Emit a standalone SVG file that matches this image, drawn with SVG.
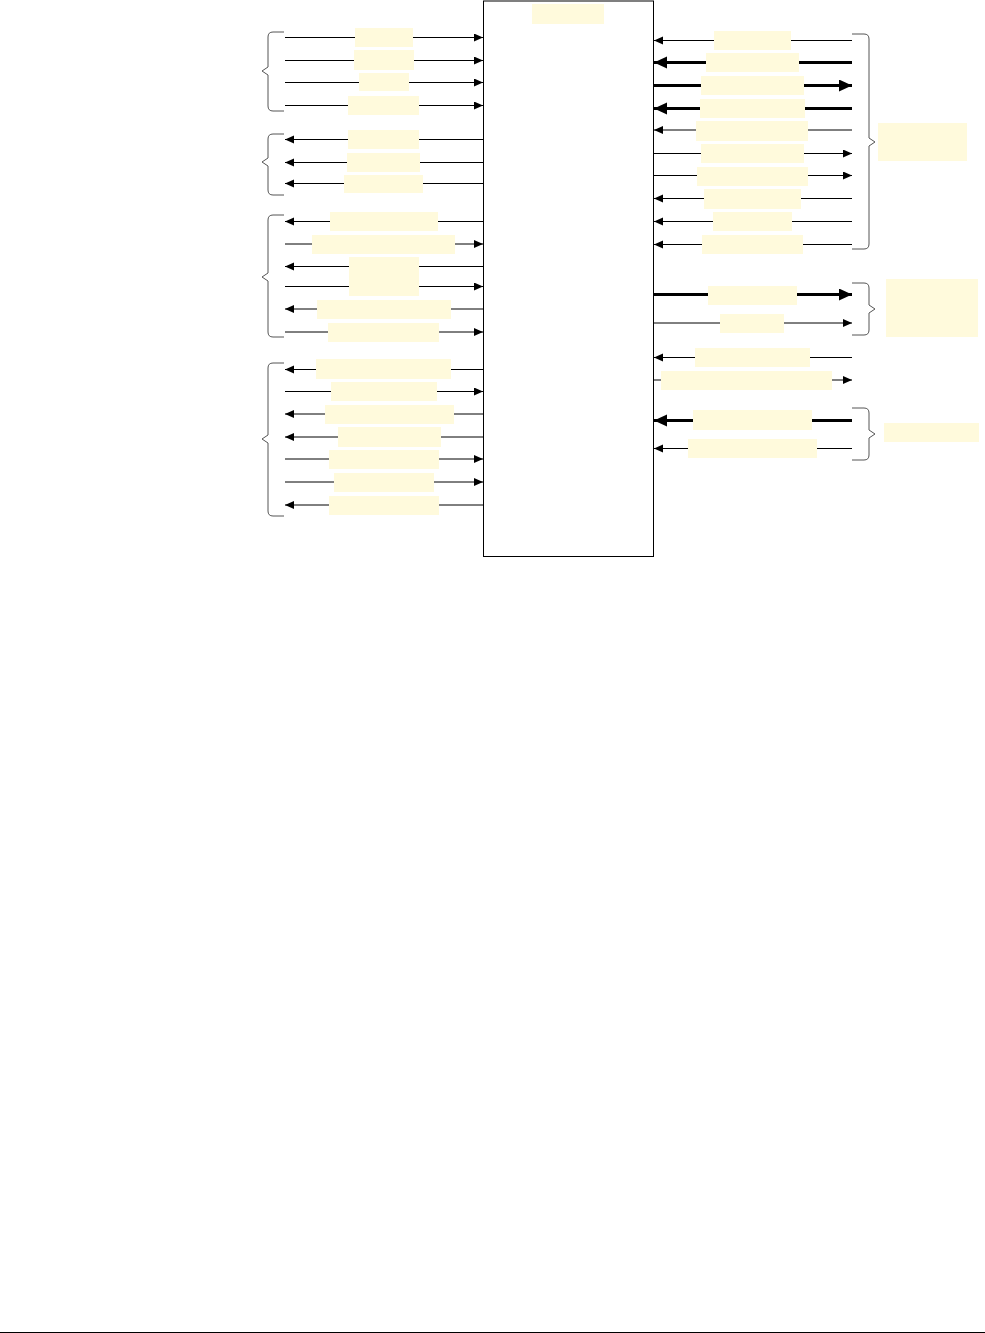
<svg xmlns="http://www.w3.org/2000/svg" width="985" height="1333" viewBox="0 0 985 1333">
<style>
.lbl{fill:#fffadc;stroke:none}
.ln{stroke:#000;stroke-width:1;fill:none}
.tk{stroke:#000;stroke-width:3;fill:none}
.br{stroke:#555;stroke-width:1;fill:none}
</style>
<defs>
<marker id="a" markerUnits="userSpaceOnUse" markerWidth="10" markerHeight="9" refX="9" refY="4" orient="auto"><path d="M0,0 L9,4 L0,8 z" fill="#000"/></marker>
<marker id="b" markerUnits="userSpaceOnUse" markerWidth="14" markerHeight="13" refX="13" refY="6" orient="auto"><path d="M0,0 L13,6 L0,12 z" fill="#000"/></marker>
</defs>
<rect width="985" height="1333" fill="#fff"/>
<g id="connectors">
<!-- left group 1 -->
<line class="ln" x1="285" y1="37.5" x2="483" y2="37.5" marker-end="url(#a)"/>
<line class="ln" x1="285" y1="60.5" x2="483" y2="60.5" marker-end="url(#a)"/>
<line class="ln" x1="285" y1="82.5" x2="483" y2="82.5" marker-end="url(#a)"/>
<line class="ln" x1="285" y1="105.5" x2="483" y2="105.5" marker-end="url(#a)"/>
<!-- left group 2 -->
<line class="ln" x1="483" y1="139.5" x2="285" y2="139.5" marker-end="url(#a)"/>
<line class="ln" x1="483" y1="162.5" x2="285" y2="162.5" marker-end="url(#a)"/>
<line class="ln" x1="483" y1="183.5" x2="285" y2="183.5" marker-end="url(#a)"/>
<!-- left group 3 -->
<line class="ln" x1="483" y1="221.5" x2="285" y2="221.5" marker-end="url(#a)"/>
<line class="ln" x1="285" y1="244" x2="483" y2="244" marker-end="url(#a)"/>
<line class="ln" x1="483" y1="266.5" x2="285" y2="266.5" marker-end="url(#a)"/>
<line class="ln" x1="285" y1="286.5" x2="483" y2="286.5" marker-end="url(#a)"/>
<line class="ln" x1="483" y1="309" x2="285" y2="309" marker-end="url(#a)"/>
<line class="ln" x1="285" y1="332" x2="483" y2="332" marker-end="url(#a)"/>
<!-- left group 4 -->
<line class="ln" x1="483" y1="369.5" x2="285" y2="369.5" marker-end="url(#a)"/>
<line class="ln" x1="285" y1="391.5" x2="483" y2="391.5" marker-end="url(#a)"/>
<line class="ln" x1="483" y1="414" x2="285" y2="414" marker-end="url(#a)"/>
<line class="ln" x1="483" y1="437" x2="285" y2="437" marker-end="url(#a)"/>
<line class="ln" x1="285" y1="459" x2="483" y2="459" marker-end="url(#a)"/>
<line class="ln" x1="285" y1="482" x2="483" y2="482" marker-end="url(#a)"/>
<line class="ln" x1="483" y1="505" x2="285" y2="505" marker-end="url(#a)"/>
<!-- right group A -->
<line class="ln" x1="852" y1="40.5" x2="654" y2="40.5" marker-end="url(#a)"/>
<line class="tk" x1="852" y1="62.5" x2="654" y2="62.5" marker-end="url(#b)"/>
<line class="tk" x1="654" y1="85.5" x2="852" y2="85.5" marker-end="url(#b)"/>
<line class="tk" x1="852" y1="108.5" x2="654" y2="108.5" marker-end="url(#b)"/>
<line class="ln" x1="852" y1="130" x2="654" y2="130" marker-end="url(#a)"/>
<line class="ln" x1="654" y1="153.5" x2="852" y2="153.5" marker-end="url(#a)"/>
<line class="ln" x1="654" y1="175.5" x2="852" y2="175.5" marker-end="url(#a)"/>
<line class="ln" x1="852" y1="198.5" x2="654" y2="198.5" marker-end="url(#a)"/>
<line class="ln" x1="852" y1="221.5" x2="654" y2="221.5" marker-end="url(#a)"/>
<line class="ln" x1="852" y1="244.5" x2="654" y2="244.5" marker-end="url(#a)"/>
<!-- right group B -->
<line class="tk" x1="654" y1="294.5" x2="852" y2="294.5" marker-end="url(#b)"/>
<line class="ln" x1="654" y1="323" x2="852" y2="323" marker-end="url(#a)"/>
<!-- right group C -->
<line class="ln" x1="852" y1="357.5" x2="654" y2="357.5" marker-end="url(#a)"/>
<line class="ln" x1="654" y1="380" x2="852" y2="380" marker-end="url(#a)"/>
<!-- right group D -->
<line class="tk" x1="852" y1="420.5" x2="654" y2="420.5" marker-end="url(#b)"/>
<line class="ln" x1="852" y1="448.5" x2="654" y2="448.5" marker-end="url(#a)"/>
</g>
<g id="main">
<rect x="483.5" y="1" width="170" height="555.5" fill="none" stroke="#000" stroke-width="1"/>
<rect class="lbl" x="532" y="4" width="72" height="20"/>
</g>
<g id="left-labels">
<rect class="lbl" x="355" y="28" width="58" height="19"/>
<rect class="lbl" x="354" y="50" width="60" height="20"/>
<rect class="lbl" x="359" y="73" width="50" height="18"/>
<rect class="lbl" x="348" y="96" width="71" height="19"/>
<rect class="lbl" x="348" y="130" width="71" height="19"/>
<rect class="lbl" x="347" y="153" width="73" height="19"/>
<rect class="lbl" x="344" y="175" width="79" height="18"/>
<rect class="lbl" x="330" y="212" width="108" height="19"/>
<rect class="lbl" x="312" y="235" width="143" height="19"/>
<rect class="lbl" x="349" y="257" width="70" height="39"/>
<rect class="lbl" x="317" y="300" width="134" height="19"/>
<rect class="lbl" x="328" y="323" width="111" height="19"/>
<rect class="lbl" x="316" y="359" width="135" height="20"/>
<rect class="lbl" x="331" y="382" width="106" height="19"/>
<rect class="lbl" x="325" y="405" width="129" height="19"/>
<rect class="lbl" x="338" y="427" width="103" height="20"/>
<rect class="lbl" x="329" y="450" width="110" height="19"/>
<rect class="lbl" x="334" y="473" width="100" height="19"/>
<rect class="lbl" x="329" y="496" width="110" height="19"/>
</g>
<g id="right-labels">
<rect class="lbl" x="714" y="31" width="77" height="19"/>
<rect class="lbl" x="706" y="53" width="93" height="19"/>
<rect class="lbl" x="701" y="76" width="103" height="19"/>
<rect class="lbl" x="700" y="99" width="105" height="19"/>
<rect class="lbl" x="696" y="121" width="112" height="20"/>
<rect class="lbl" x="701" y="144" width="103" height="19"/>
<rect class="lbl" x="697" y="167" width="111" height="19"/>
<rect class="lbl" x="704" y="189" width="97" height="20"/>
<rect class="lbl" x="713" y="212" width="79" height="19"/>
<rect class="lbl" x="702" y="235" width="101" height="19"/>
<rect class="lbl" x="708" y="286" width="89" height="19"/>
<rect class="lbl" x="720" y="314" width="64" height="19"/>
<rect class="lbl" x="695" y="348" width="115" height="19"/>
<rect class="lbl" x="661" y="371" width="171" height="19"/>
<rect class="lbl" x="693" y="410" width="119" height="20"/>
<rect class="lbl" x="688" y="439" width="129" height="19"/>
</g>
<g id="group-labels">
<rect class="lbl" x="878" y="123" width="89" height="38"/>
<rect class="lbl" x="886" y="279" width="92" height="58"/>
<rect class="lbl" x="884" y="423" width="95" height="19"/>
</g>
<g id="braces">
<path class="br" d="M284,32 H273 Q268,32 268,37 V67 L262,71 L268,75 V106 Q268,111 273,111 H284"/>
<path class="br" d="M284,134 H273 Q268,134 268,139 V158 L262,162 L268,166 V190 Q268,195 273,195 H284"/>
<path class="br" d="M284,215 H273 Q268,215 268,220 V273 L262,277 L268,281 V332 Q268,337 273,337 H284"/>
<path class="br" d="M284,363 H273 Q268,363 268,368 V435 L262,439 L268,443 V511 Q268,516 273,516 H284"/>
<path class="br" d="M852,34 H864 Q869,34 869,39 V138 L875,142 L869,146 V244 Q869,249 864,249 H852"/>
<path class="br" d="M852,283 H864 Q869,283 869,288 V305 L875,309 L869,313 V330 Q869,335 864,335 H852"/>
<path class="br" d="M852,408 H864 Q869,408 869,413 V430 L875,434 L869,438 V455 Q869,460 864,460 H852"/>
</g>
<rect x="0" y="1332" width="985" height="1" fill="#000"/>
</svg>
